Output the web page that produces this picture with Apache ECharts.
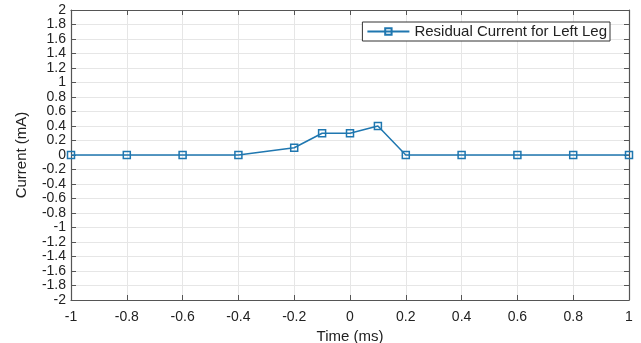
<!DOCTYPE html>
<html><head><meta charset="utf-8">
<script src="https://cdn.jsdelivr.net/npm/echarts@6/dist/echarts.min.js"></script>
<style>html,body{margin:0;padding:0;background:#fff}#c{width:641px;height:343px}</style>
</head><body><div id="c"></div>
<script>
const timeMs = [-1, -0.8, -0.6, -0.4, -0.2, -0.1, 0, 0.1, 0.2, 0.4, 0.6, 0.8, 1];
const currentMA = [0, 0, 0, 0, 0.1, 0.3, 0.3, 0.4, 0, 0, 0, 0, 0];
const seriesName = 'Residual Current for Left Leg';
const xTitle = 'Time (ms)';
const yTitle = 'Current (mA)';

const chart = echarts.init(document.getElementById('c'));
const font = 'Liberation Sans, Arial, sans-serif';
const axisColor = '#555';
const fmt = v => {
  const r = Math.round(v * 10) / 10;
  return Object.is(r, -0) ? '0' : String(r);
};
const data = timeMs.map((t, i) => [t, currentMA[i]]);
chart.setOption({
  animation: false,
  grid: { left: 71, right: 12, top: 10, bottom: 43, containLabel: false, outerBoundsMode: 'none' },
  legend: {
    right: 31, top: 22,
    padding: [2, 3, 2, 4],
    itemWidth: 42, itemHeight: 8,
    itemGap: 4,
    borderColor: '#333', borderWidth: 1,
    backgroundColor: '#fff',
    textStyle: { fontFamily: font, fontSize: 15, color: '#222' },
    data: [{ name: seriesName }]
  },
  xAxis: [{
    type: 'value', min: -1, max: 1, interval: 0.2,
    name: xTitle, nameLocation: 'middle', nameGap: 26,
    nameTextStyle: { fontFamily: font, fontSize: 15, color: '#222' },
    axisLine: { onZero: false, lineStyle: { color: axisColor, width: 1.2 } },
    axisTick: { inside: true, length: 5, lineStyle: { color: axisColor } },
    axisLabel: { fontFamily: font, fontSize: 14, color: '#222', margin: 10, formatter: fmt },
    splitLine: { show: true, lineStyle: { color: '#e6e6e6' } }
  }, {
    type: 'value', min: -1, max: 1, interval: 0.2, position: 'top',
    axisLine: { onZero: false, lineStyle: { color: axisColor, width: 1.2 } },
    axisTick: { inside: true, length: 5, lineStyle: { color: axisColor } },
    axisLabel: { show: false }, splitLine: { show: false }
  }],
  yAxis: [{
    type: 'value', min: -2, max: 2, interval: 0.2,
    name: yTitle, nameLocation: 'middle', nameGap: 42,
    nameTextStyle: { fontFamily: font, fontSize: 15, color: '#222' },
    axisLine: { show: true, onZero: false, lineStyle: { color: axisColor, width: 1.2 } },
    axisTick: { show: true, inside: true, length: 5, lineStyle: { color: axisColor } },
    axisLabel: { fontFamily: font, fontSize: 14, color: '#222', margin: 5, formatter: fmt },
    splitLine: { show: true, lineStyle: { color: '#e6e6e6' } }
  }, {
    type: 'value', min: -2, max: 2, interval: 0.2, position: 'right',
    axisLine: { show: true, onZero: false, lineStyle: { color: axisColor, width: 1.2 } },
    axisTick: { show: true, inside: true, length: 5, lineStyle: { color: axisColor } },
    axisLabel: { show: false }, splitLine: { show: false }
  }],
  series: [{
    name: seriesName, type: 'line', data: data,
    xAxisIndex: 0, yAxisIndex: 0,
    symbol: 'rect', symbolSize: 7,
    lineStyle: { color: '#1f77b0', width: 1.5 },
    itemStyle: { color: 'rgba(255,255,255,0)', borderColor: '#1f77b0', borderWidth: 1.5 }
  }]
});
</script></body></html>
